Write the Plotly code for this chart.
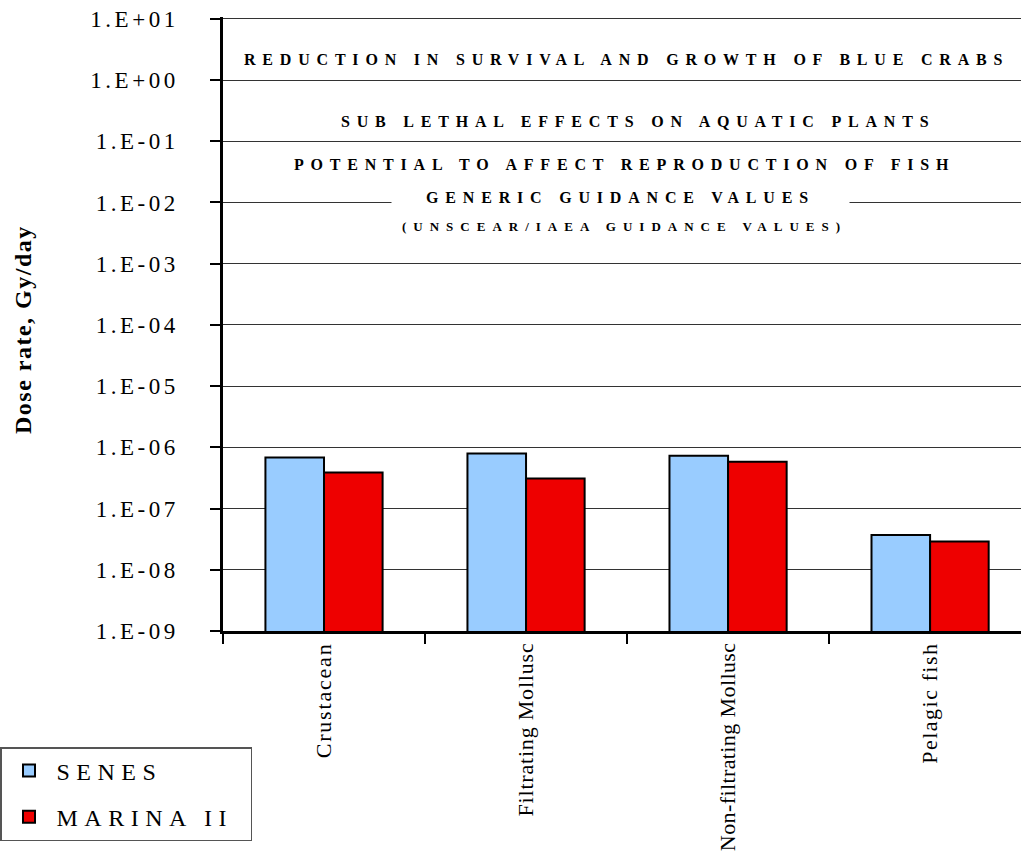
import plotly.graph_objects as go

categories = ["Crustacean", "Filtrating Mollusc", "Non-filtrating Mollusc", "Pelagic fish"]
senes = [6.8e-7, 7.9e-7, 7.3e-7, 3.7e-8]
marina = [3.9e-7, 3.1e-7, 5.8e-7, 2.9e-8]
series_names = ["SENES", "MARINA II"]
tick_exponents = [1, 0, -1, -2, -3, -4, -5, -6, -7, -8, -9]
tick_labels = ["1.E+01", "1.E+00", "1.E-01", "1.E-02", "1.E-03", "1.E-04",
               "1.E-05", "1.E-06", "1.E-07", "1.E-08", "1.E-09"]
y_title = "Dose rate, Gy/day"
threshold_texts = [
    "REDUCTION IN SURVIVAL AND GROWTH OF BLUE CRABS",
    "SUB LETHAL EFFECTS ON AQUATIC PLANTS",
    "POTENTIAL TO AFFECT REPRODUCTION OF FISH",
    "GENERIC GUIDANCE VALUES",
    "(UNSCEAR/IAEA GUIDANCE VALUES)",
]

SERIF = "Liberation Serif"


def spaced(s, px):
    return f'<span style="letter-spacing:{px}px">{s}</span>'


fig = go.Figure()
fig.add_trace(go.Bar(
    x=categories, y=senes, name=spaced(series_names[0], 6.5), legendgroup="a",
    marker=dict(color="#99CCFF", line=dict(color="black", width=2)),
))
fig.add_trace(go.Bar(
    x=categories, y=marina, name=spaced(series_names[1] + "\u00a0", 6.5), legendgroup="b",
    marker=dict(color="#EE0000", line=dict(color="black", width=2)),
))

W, H = 1021, 858
L, R, T, B = 223, 0, 17, 227
Y_TOP = 1.03
plot_w = W - L - R
plot_h = H - T - B

fig.update_layout(
    width=W, height=H,
    margin=dict(l=L, r=R, t=T, b=B, autoexpand=False),
    paper_bgcolor="white", plot_bgcolor="white",
    barmode="group", bargap=0.42, bargroupgap=0.0,
    font=dict(family=SERIF, color="black", size=20),
    showlegend=True,
    legend=dict(
        xref="container", yref="container", x=0.0, y=1 - 747 / H,
        xanchor="left", yanchor="top",
        bordercolor="#555555", borderwidth=1.5, bgcolor="white",
        font=dict(family=SERIF, size=24, color="black"),
        tracegroupgap=12, traceorder="grouped", itemwidth=45,
    ),
)

fig.update_yaxes(
    type="log", range=[-9, Y_TOP], automargin=False,
    tickvals=[10.0 ** e for e in tick_exponents],
    ticktext=[spaced(t, 3.5) for t in tick_labels],
    tickfont=dict(family=SERIF, size=23, color="black"),
    ticks="outside", ticklen=10, tickwidth=2, tickcolor="black",
    ticklabelstandoff=27,
    showline=True, linecolor="black", linewidth=2.5,
    showgrid=True, gridcolor="#333333", gridwidth=1,
    zeroline=False,
)

x_label_spacing = {"Crustacean": 1.8, "Filtrating Mollusc": 0.8,
                   "Non-filtrating Mollusc": 0.4, "Pelagic fish": 1.5}
fig.update_xaxes(
    type="category", range=[-0.5, 3.45], automargin=False,
    tickson="boundaries", ticks="outside", ticklen=10, tickwidth=2, tickcolor="black",
    tickangle=-90, tickfont=dict(family=SERIF, size=22, color="black"),
    ticktext=[spaced(c, x_label_spacing[c]) for c in categories], tickvals=categories,
    showline=True, linecolor="black", linewidth=2.5,
    showgrid=False, zeroline=False,
)


def px_to_paper_x(px):
    return (px - L) / plot_w


def px_to_paper_y(py):
    return 1 - (py - T) / plot_h


# y-axis title as rotated annotation
fig.add_annotation(
    xref="paper", yref="paper", x=px_to_paper_x(23), y=px_to_paper_y(330),
    text="<b>" + spaced(y_title, 1.5) + "</b>", textangle=-90,
    showarrow=False, xanchor="center", yanchor="middle",
    font=dict(family=SERIF, size=24, color="black"),
)

# threshold labels: (text index, center px x, y in log units, font size, letter spacing)
label_specs = [
    (0, 626, 0.33, 16, 6.8),
    (1, 638, -0.68, 16, 6.8),
    (2, 624, -1.38, 16, 6.8),
    (3, 620, -1.92, 16, 6.8),
    (4, 624, -2.40, 13, 7.0),
]
for idx, cx, ylog, fs, ls in label_specs:
    extra = {}
    if idx == 3:
        extra = dict(bgcolor="white", width=455)
    fig.add_annotation(
        xref="paper", yref="y", x=px_to_paper_x(cx), y=ylog,
        text="<b>" + spaced(threshold_texts[idx], ls) + "</b>",
        showarrow=False, xanchor="center", yanchor="middle",
        font=dict(family=SERIF, size=fs, color="black"),
        **extra,
    )

fig.write_html("out.html")
